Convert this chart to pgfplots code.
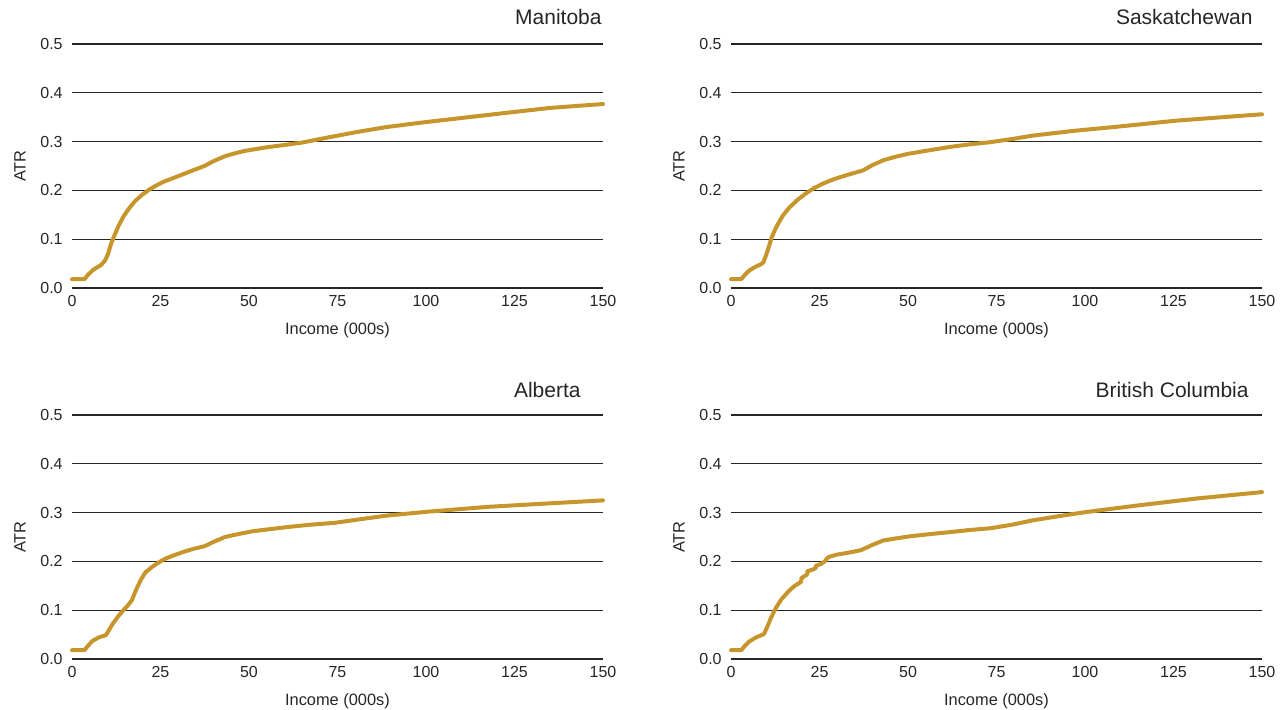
\documentclass[border=0pt]{standalone}
\usepackage{pgfplots}
\pgfplotsset{compat=1.18}
\usepackage{fontspec}
\setmainfont{Liberation Sans}
\definecolor{atr}{RGB}{198,150,45}
\pgfplotsset{
  prov/.style={
    scale only axis, width=265.5pt, height=122pt,
    xmin=0, xmax=150, ymin=0, ymax=0.5,
    xtick={0,25,50,75,100,125,150},
    ytick={0,0.1,0.2,0.3,0.4,0.5},
    yticklabel style={/pgf/number format/fixed,/pgf/number format/precision=1,/pgf/number format/fixed zerofill},
    /pgf/number format/assume math mode=true,
    axis line style={draw=none},
    major tick length=0pt,
    ymajorgrids,
    major grid style={black!85, line width=0.6pt},
    tick label style={font=\fontsize{8}{9}\selectfont, text=black!85, inner sep=0pt},
    yticklabel style={xshift=-4.5pt},
    xticklabel style={yshift=-3.5pt},
    xlabel={Income (000s)}, ylabel={ATR},
    label style={font=\fontsize{8.2}{9}\selectfont, text=black!85},
    xlabel style={at={(axis description cs:0.5,0)}, anchor=center, yshift=-21pt},
    ylabel style={at={(axis description cs:0,0.5)}, anchor=center, yshift=26pt},
    title style={font=\fontsize{10.5}{12}\selectfont, text=black!85, anchor=east, inner sep=0pt},
    clip=false,
  },
  curve/.style={color=atr, line width=2pt, line join=round, line cap=round, mark=none},
}
\begin{document}
\begin{tikzpicture}
\useasboundingbox (0,0) rectangle (643.5pt,355pt);
\begin{axis}[prov, at={(36pt,211pt)}, anchor=south west,
  title={Manitoba}, title style={at={(axis description cs:1,1)}, xshift=-0.5pt, yshift=7.5pt}]
\addplot[curve] coordinates {(0,0.018)(3.5,0.018)(4.5,0.027)(5.8,0.036)(7,0.042)(8.2,0.047)(9.3,0.056)(10.2,0.07)(11,0.09)(12,0.108)(13.2,0.128)(14.5,0.146)(16,0.162)(17.8,0.178)(19.8,0.191)(21.9,0.202)(24,0.211)(26,0.218)(28.5,0.225)(31.7,0.234)(34.5,0.242)(37.4,0.25)(40,0.26)(43.2,0.27)(46,0.276)(48.9,0.281)(54.7,0.288)(60,0.293)(65,0.298)(72,0.308)(80,0.319)(89,0.330)(100,0.340)(112,0.350)(124,0.360)(135,0.369)(150,0.377)};
\end{axis}
\begin{axis}[prov, at={(365.5pt,211pt)}, anchor=south west,
  title={Saskatchewan}, title style={at={(axis description cs:1,1)}, xshift=-4.5pt, yshift=7.5pt}]
\addplot[curve] coordinates {(0,0.018)(2.9,0.018)(3.8,0.026)(5.2,0.036)(6.8,0.043)(8.3,0.048)(9.1,0.052)(9.8,0.065)(10.5,0.08)(11.5,0.104)(12.8,0.125)(14.6,0.148)(16.5,0.165)(18.7,0.18)(21,0.193)(23.3,0.204)(26,0.214)(29.1,0.223)(33,0.232)(37.3,0.241)(40,0.252)(43.1,0.262)(46.5,0.269)(50.1,0.275)(55,0.281)(61.8,0.289)(67,0.294)(73.5,0.299)(80,0.306)(85,0.312)(96.8,0.322)(108.4,0.330)(125.9,0.343)(150,0.356)};
\end{axis}
\begin{axis}[prov, at={(36pt,25.5pt)}, anchor=south west,
  title={Alberta}, title style={at={(axis description cs:1,1)}, xshift=-11pt, yshift=6.5pt}]
\addplot[curve] coordinates {(0,0.018)(3.5,0.018)(4.5,0.027)(5.8,0.037)(7.5,0.044)(9.6,0.049)(10.5,0.06)(11.5,0.072)(13,0.087)(14.4,0.099)(15.7,0.109)(16.9,0.12)(18,0.14)(19.5,0.163)(20.7,0.177)(22.5,0.188)(24.5,0.198)(26.5,0.206)(29,0.213)(31.7,0.22)(34.5,0.226)(37.4,0.231)(40,0.24)(43.2,0.25)(47,0.256)(51.2,0.262)(60.4,0.270)(67,0.275)(74.2,0.279)(82,0.287)(89.2,0.294)(100.7,0.302)(118,0.312)(135,0.319)(150,0.325)};
\end{axis}
\begin{axis}[prov, at={(365.5pt,25.5pt)}, anchor=south west,
  title={British Columbia}, title style={at={(axis description cs:1,1)}, xshift=-6.5pt, yshift=6.5pt}]
\addplot[curve] coordinates {(0,0.018)(2.9,0.018)(3.8,0.026)(5.2,0.036)(7,0.044)(9.3,0.051)(10.2,0.065)(11.1,0.081)(12,0.095)(12.8,0.106)(14.2,0.122)(16.3,0.139)(18,0.15)(19.8,0.158)(19.9,0.166)(21.5,0.173)(21.6,0.18)(23,0.183)(23.9,0.186)(24,0.191)(25.5,0.195)(26.5,0.2)(27.2,0.207)(28,0.21)(30,0.214)(32.6,0.217)(36.7,0.223)(40,0.234)(43.1,0.243)(46.5,0.247)(50.1,0.251)(55,0.255)(61.8,0.26)(67,0.264)(73.4,0.268)(80,0.276)(85.1,0.284)(92,0.292)(100.2,0.301)(114.2,0.314)(131.7,0.329)(150,0.342)};
\end{axis}
\end{tikzpicture}
\end{document}
